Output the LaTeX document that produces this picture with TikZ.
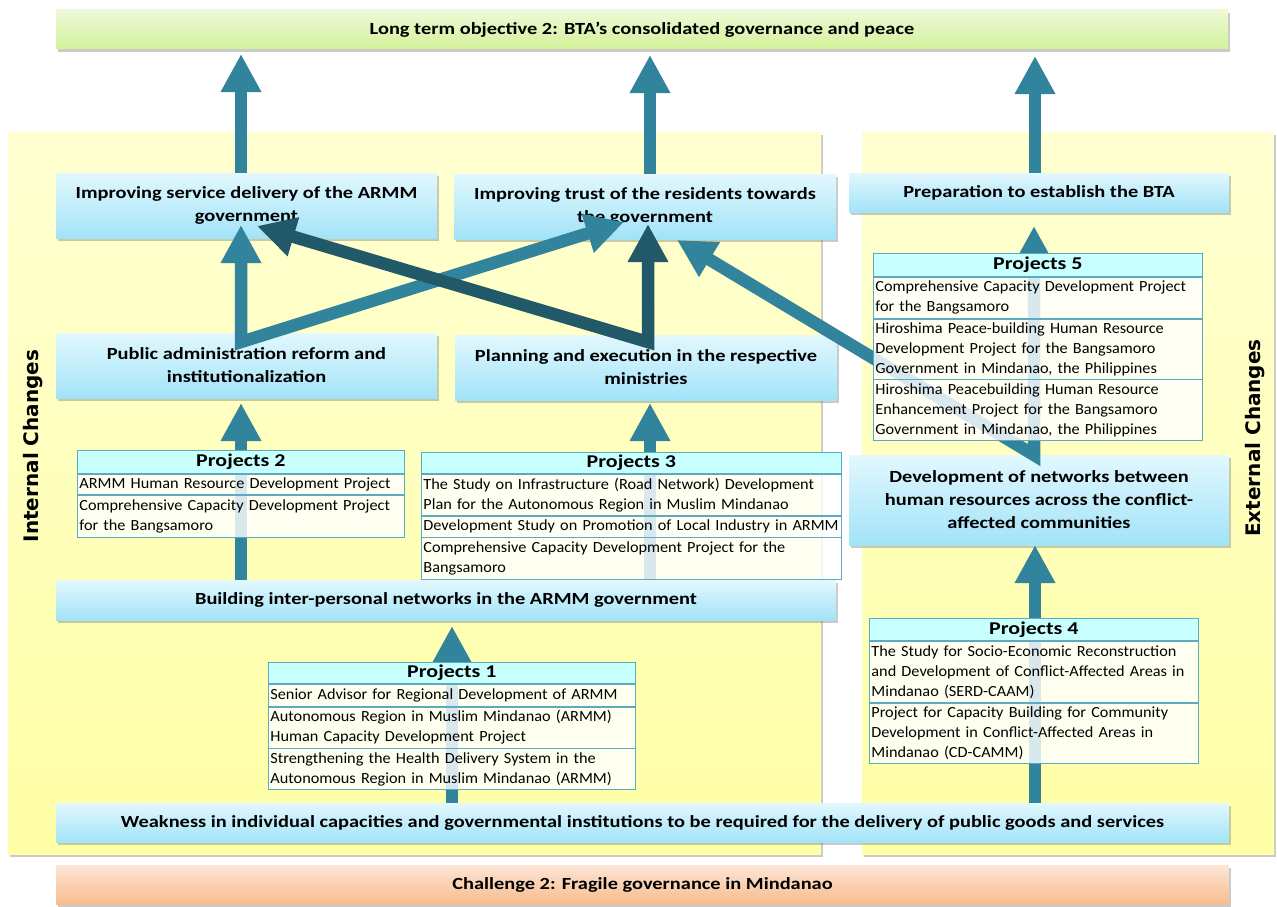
\documentclass[tikz,border=0pt]{standalone}
\usepackage{fontspec}
\setmainfont{Carlito}
\newfontfamily\boxfont{Carlito}[FakeStretch=1.2]
\newfontfamily\headfont{Carlito}[FakeStretch=1.22]
\newfontfamily\rowfont{Carlito}[FakeStretch=1.05,WordSpace=0.8]
\newfontfamily\vfont{DejaVu Sans}
\usetikzlibrary{arrows.meta,shadows}
\definecolor{tealA}{HTML}{31849B}
\definecolor{darkA}{HTML}{215968}
\definecolor{boxtop}{HTML}{E2F8FE}
\definecolor{boxbot}{HTML}{A2E3F8}
\definecolor{grtop}{HTML}{EEF9D8}
\definecolor{grbot}{HTML}{D3F29A}
\definecolor{ortop}{HTML}{FDE6D6}
\definecolor{orbot}{HTML}{F8BC8C}
\definecolor{yltop}{HTML}{FFFFD2}
\definecolor{ylbot}{HTML}{FFFFA6}
\definecolor{tabline}{HTML}{5AAAC0}
\definecolor{headfill}{HTML}{C8FFFF}
\begin{document}
\begin{tikzpicture}[x=1pt,y=-1pt,
  shadowed/.style={drop shadow={shadow xshift=2pt,shadow yshift=-3pt,opacity=0.35,fill=black!60}},
  panel/.style={shadowed,top color=yltop,bottom color=ylbot,draw=none},
  bluebox/.style={shadowed,top color=boxtop,bottom color=boxbot,draw=none,inner sep=0pt,align=center,
     font=\boxfont\bfseries\fontsize{17}{23}\selectfont},
  greenbox/.style={bluebox,top color=grtop,bottom color=grbot},
  orangebox/.style={bluebox,top color=ortop,bottom color=orbot},
  blockarrow/.style={draw=tealA,line width=12.5pt,line join=miter,
     arrows={Triangle[width=38pt,length=38pt]-Triangle[width=38pt,length=38pt]}},
  uparrow/.style={draw=tealA,line width=12.5pt,-{Triangle[width=38pt,length=38pt]}},
  projhead/.style={draw=tabline,line width=0.8pt,fill=headfill,anchor=north west,inner sep=0pt,
     font=\headfont\bfseries\fontsize{18}{20}\selectfont},
  projrow/.style={draw=tabline,line width=0.8pt,fill=white,fill opacity=0.82,text opacity=1,anchor=north west,
     align=left,inner xsep=2pt,inner ysep=0pt,font=\rowfont\fontsize{15.5}{20}\selectfont},
  sidelabel/.style={rotate=90,font=\vfont\bfseries\fontsize{20}{22}\selectfont}
]
\useasboundingbox (0,0) rectangle (1277,907);

% panels
\path[panel] (8,132) rectangle (821,854);
\path[panel] (862,132) rectangle (1274,854);
\node[sidelabel] (intl) at (33,446) {Internal Changes};
\node[sidelabel] (extl) at (1255,438) {External Changes};

% boxes
\node[greenbox,minimum width=1172pt,minimum height=39pt] (goal) at (642,29.5) {Long term objective 2: BTA’s consolidated governance and peace};
\node[bluebox,minimum width=381pt,minimum height=65pt] (svc) at (246.5,205.5) {Improving service delivery of the ARMM\\government};
\node[bluebox,minimum width=382pt,minimum height=65pt] (trust) at (645,206.5) {Improving trust of the residents towards\\the government};
\node[bluebox,minimum width=380pt,minimum height=39pt] (prep) at (1039,192.5) {Preparation to establish the BTA};
\node[bluebox,minimum width=381pt,minimum height=65pt] (pa) at (246.5,365.5) {Public administration reform and\\institutionalization};
\node[bluebox,minimum width=382pt,minimum height=65pt] (plan) at (646,367.5) {Planning and execution in the respective\\ministries};
\node[bluebox,minimum width=380pt,minimum height=90pt] (dev) at (1039,500) {Development of networks between\\human resources across the conflict-\\affected communities};
\node[bluebox,minimum width=780pt,minimum height=40pt] (bld) at (446,600) {Building inter-personal networks in the ARMM government};
\node[bluebox,minimum width=1173pt,minimum height=39pt] (weak) at (642.5,822.5) {Weakness in individual capacities and governmental institutions to be required for the delivery of public goods and services};
\node[orangebox,minimum width=1173pt,minimum height=39pt] (chal) at (642.5,884.5) {Challenge 2: Fragile governance in Mindanao};

% arrow end points
\coordinate (svcTop) at (241,173);
\coordinate (goalA) at (241,54);
\coordinate (trustTop) at (650,174);
\coordinate (goalB) at (650,55);
\coordinate (prepTop) at (1035,173);
\coordinate (goalC) at (1035,56);
\coordinate (paV) at (241,342);
\coordinate (svcTipA) at (241,225);
\coordinate (trustTipA) at (624,222);
\coordinate (planV) at (648,342);
\coordinate (trustTipB) at (648,224);
\coordinate (svcTipB) at (257,226);
\coordinate (devV) at (1034,455);
\coordinate (prepTip) at (1034,226);
\coordinate (trustTipC) at (677,240);
\coordinate (bldA) at (241,580);
\coordinate (paTip) at (241,403);
\coordinate (bldB) at (650,580);
\coordinate (planTip) at (650,403);
\coordinate (weakA) at (452,803);
\coordinate (bldTip) at (452,626);
\coordinate (weakB) at (1035,803);
\coordinate (devTip) at (1035,545);

% arrows
\draw[uparrow] (svcTop) -- (goalA);
\draw[uparrow] (trustTop) -- (goalB);
\draw[uparrow] (prepTop) -- (goalC);
\draw[blockarrow] (svcTipA) -- (paV) -- (trustTipA);
\draw[blockarrow,draw=darkA] (svcTipB) -- (planV) -- (trustTipB);
\draw[blockarrow] (prepTip) -- (devV) -- (trustTipC);
\draw[uparrow] (bldA) -- (paTip);
\draw[uparrow] (bldB) -- (planTip);
\draw[uparrow] (weakA) -- (bldTip);
\draw[uparrow] (weakB) -- (devTip);

% Projects 2
\node[projhead,minimum width=327pt,minimum height=23pt] (p2h) at (77,450) {Projects 2};
\node[projrow,text width=323pt,minimum height=20pt] (p2a) at (p2h.south west) {ARMM Human Resource Development Project};
\node[projrow,text width=323pt,minimum height=42pt] (p2b) at (p2a.south west) {Comprehensive Capacity Development Project\\for the Bangsamoro};

% Projects 3
\node[projhead,minimum width=420pt,minimum height=21pt] (p3h) at (421,452) {Projects 3};
\node[projrow,text width=416pt,minimum height=41pt] (p3a) at (p3h.south west) {The Study on Infrastructure (Road Network) Development\\Plan for the Autonomous Region in Muslim Mindanao};
\node[projrow,text width=416pt,minimum height=21pt] (p3b) at (p3a.south west) {Development Study on Promotion of Local Industry in ARMM};
\node[projrow,text width=416pt,minimum height=42pt] (p3c) at (p3b.south west) {Comprehensive Capacity Development Project for the\\Bangsamoro};

% Projects 1
\node[projhead,minimum width=367pt,minimum height=21pt] (p1h) at (268,662) {Projects 1};
\node[projrow,text width=363pt,minimum height=22pt] (p1a) at (p1h.south west) {Senior Advisor for Regional Development of ARMM};
\node[projrow,text width=363pt,minimum height=41pt] (p1b) at (p1a.south west) {Autonomous Region in Muslim Mindanao (ARMM)\\Human Capacity Development Project};
\node[projrow,text width=363pt,minimum height=41pt] (p1c) at (p1b.south west) {Strengthening the Health Delivery System in the\\Autonomous Region in Muslim Mindanao (ARMM)};

% Projects 4
\node[projhead,minimum width=329pt,minimum height=22pt] (p4h) at (869,618) {Projects 4};
\node[projrow,text width=325pt,minimum height=61pt] (p4a) at (p4h.south west) {The Study for Socio-Economic Reconstruction\\and Development of Conflict-Affected Areas in\\Mindanao (SERD-CAAM)};
\node[projrow,text width=325pt,minimum height=60pt] (p4b) at (p4a.south west) {Project for Capacity Building for Community\\Development in Conflict-Affected Areas in\\Mindanao (CD-CAMM)};

% Projects 5
\node[projhead,minimum width=329pt,minimum height=23pt] (p5h) at (873,253) {Projects 5};
\node[projrow,text width=325pt,minimum height=41pt] (p5a) at (p5h.south west) {Comprehensive Capacity Development Project\\for the Bangsamoro};
\node[projrow,text width=325pt,minimum height=60pt] (p5b) at (p5a.south west) {Hiroshima Peace-building Human Resource\\Development Project for the Bangsamoro\\Government in Mindanao, the Philippines};
\node[projrow,text width=325pt,minimum height=61pt] (p5c) at (p5b.south west) {Hiroshima Peacebuilding Human Resource\\Enhancement Project for the Bangsamoro\\Government in Mindanao, the Philippines};
\end{tikzpicture}
\end{document}
